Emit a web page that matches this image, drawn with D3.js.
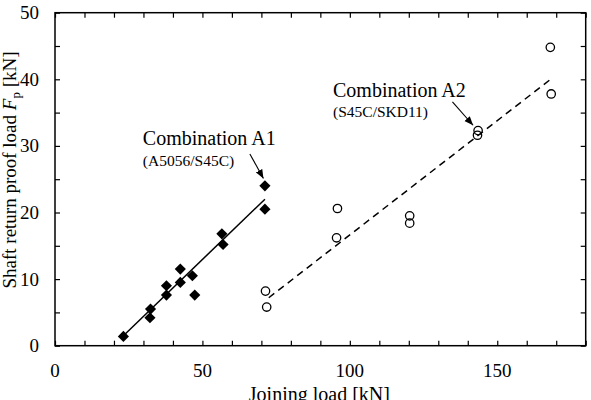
<!DOCTYPE html>
<html lang="en">

<head>
    <meta charset="UTF-8" />
    <title>Shaft return proof load vs joining load</title>
    <script src="https://d3js.org/d3.v7.js"></script>
    <style>
        body { margin: 0; background: #fff; }
        svg text { font-family: "Liberation Serif", "Times New Roman", "DejaVu Serif", serif; fill: #000; }
    </style>
</head>

<body>
    <svg id="chart"></svg>
</body>

<script>
    // Combination A1 (A5056/S45C) - filled diamonds
    var a1X = [23.2, 32.2, 32.4, 37.8, 37.8, 42.5, 42.5, 46.6, 47.4, 56.6, 57.0, 71.2, 71.2];
    var a1Y = [1.4, 4.2, 5.5, 7.6, 9.0, 11.5, 9.5, 10.5, 7.6, 16.8, 15.2, 20.5, 24.0];
    // Combination A2 (S45C/SKD11) - open circles
    var a2X = [71.4, 71.8, 95.8, 95.5, 120.3, 120.3, 143.5, 143.3, 168.0, 168.3];
    var a2Y = [8.2, 5.8, 20.6, 16.2, 19.5, 18.4, 32.3, 31.6, 44.8, 37.8];
    // fitted lines (end points)
    var fitA1 = [[23.2, 1.5], [71.2, 22.0]];
    var fitA2 = [[72.5, 7.2], [167.8, 39.9]];
    // axis ticks
    var xTickLabels = [0, 50, 100, 150];
    var yTickLabels = [0, 10, 20, 30, 40, 50];

    var width = 591, height = 400;
    var margin = { top: 12.7, right: 5.3, bottom: 54.3, left: 55 };
    var serif = "'Liberation Serif', 'Times New Roman', serif";

    var svg = d3.select("#chart")
        .attr("width", width)
        .attr("height", height);

    var x = d3.scaleLinear().domain([0, 180]).range([margin.left, width - margin.right]);
    var y = d3.scaleLinear().domain([0, 50]).range([height - margin.bottom, margin.top]);

    // axes - ticks point inward on all four sides
    var xMinor = d3.range(0, 181, 10);
    var yMinor = d3.range(0, 51, 5);

    svg.append("g")
        .attr("transform", `translate(0,${y(0)})`)
        .call(d3.axisBottom(x).tickValues(xMinor).tickSize(-5).tickFormat(""))
        .call(g => g.select(".domain").remove());
    svg.append("g")
        .attr("transform", `translate(0,${y(50)})`)
        .call(d3.axisTop(x).tickValues(xMinor).tickSize(-5).tickFormat(""))
        .call(g => g.select(".domain").remove());
    svg.append("g")
        .attr("transform", `translate(${x(0)},0)`)
        .call(d3.axisLeft(y).tickValues(yMinor).tickSize(-5).tickFormat(""))
        .call(g => g.select(".domain").remove());
    svg.append("g")
        .attr("transform", `translate(${x(180)},0)`)
        .call(d3.axisRight(y).tickValues(yMinor).tickSize(-5).tickFormat(""))
        .call(g => g.select(".domain").remove());
    svg.selectAll(".tick line").attr("stroke", "#000").attr("stroke-width", 1.2);

    svg.append("rect")
        .attr("x", x(0)).attr("y", y(50))
        .attr("width", x(180) - x(0)).attr("height", y(0) - y(50))
        .attr("fill", "none").attr("stroke", "#000").attr("stroke-width", 1.5);

    // tick labels
    svg.selectAll(".xlab").data(xTickLabels).enter().append("text")
        .attr("x", d => x(d)).attr("y", y(0) + 31)
        .attr("text-anchor", "middle")
        .attr("font-family", serif).attr("font-size", 19)
        .text(d => d);
    svg.selectAll(".ylab").data(yTickLabels).enter().append("text")
        .attr("x", x(0) - 16).attr("y", d => y(d) + 6.5)
        .attr("text-anchor", "end")
        .attr("font-family", serif).attr("font-size", 19)
        .text(d => d);

    // axis titles (the x title is cut by the bottom edge, as in the original)
    svg.append("text")
        .attr("x", (x(0) + x(180)) / 2 - 1).attr("y", 401)
        .attr("text-anchor", "middle")
        .attr("font-family", serif).attr("font-size", 20)
        .text("Joining load [kN]");

    var yt = svg.append("text")
        .attr("transform", "translate(16,170) rotate(-90)")
        .attr("text-anchor", "middle")
        .attr("font-family", serif).attr("font-size", 19);
    yt.append("tspan").text("Shaft return proof load ");
    yt.append("tspan").attr("font-style", "italic").text("F");
    yt.append("tspan").attr("dy", 4).attr("font-size", 13).text("p");
    yt.append("tspan").attr("dy", -4).text(" [kN]");

    // fit lines
    var line = d3.line().x(d => x(d[0])).y(d => y(d[1]));
    svg.append("path").attr("d", line(fitA1))
        .attr("fill", "none").attr("stroke", "#000").attr("stroke-width", 1.5);
    svg.append("path").attr("d", line(fitA2))
        .attr("fill", "none").attr("stroke", "#000").attr("stroke-width", 1.5)
        .attr("stroke-dasharray", "7,5");

    // markers
    var diamond = d3.symbol().type(d3.symbolSquare).size(62);
    svg.selectAll(".a1").data(a1X).enter().append("path")
        .attr("d", diamond)
        .attr("transform", (d, i) => `translate(${x(d)},${y(a1Y[i])}) rotate(45)`)
        .attr("fill", "#000");
    svg.selectAll(".a2").data(a2X).enter().append("circle")
        .attr("cx", d => x(d)).attr("cy", (d, i) => y(a2Y[i]))
        .attr("r", 4.2)
        .attr("fill", "none").attr("stroke", "#000").attr("stroke-width", 1.3);

    // annotations
    svg.append("defs").append("marker")
        .attr("id", "arrow").attr("viewBox", "0 0 10 10")
        .attr("refX", 10).attr("refY", 5)
        .attr("markerWidth", 9).attr("markerHeight", 9)
        .attr("markerUnits", "userSpaceOnUse")
        .attr("orient", "auto")
        .append("path").attr("d", "M0,1 L10,5 L0,9 z").attr("fill", "#000");

    var notes = [
        { title: "Combination A1", sub: "(A5056/S45C)", tx: 29.8, ty: 30.1, sy: 27.0, from: [66.1, 28.8], to: [70.7, 25.1] },
        { title: "Combination A2", sub: "(S45C/SKD11)", tx: 94.3, ty: 37.35, sy: 34.3, from: [134.8, 36.6], to: [141.8, 33.1] }
    ];
    notes.forEach(n => {
        svg.append("text").attr("x", x(n.tx)).attr("y", y(n.ty))
            .attr("font-family", serif).attr("font-size", 20).text(n.title);
        svg.append("text").attr("x", x(n.tx)).attr("y", y(n.sy))
            .attr("font-family", serif).attr("font-size", 15.5).text(n.sub);
        svg.append("line")
            .attr("x1", x(n.from[0])).attr("y1", y(n.from[1]))
            .attr("x2", x(n.to[0])).attr("y2", y(n.to[1]))
            .attr("stroke", "#000").attr("stroke-width", 1.1)
            .attr("marker-end", "url(#arrow)");
    });
</script>

</html>
